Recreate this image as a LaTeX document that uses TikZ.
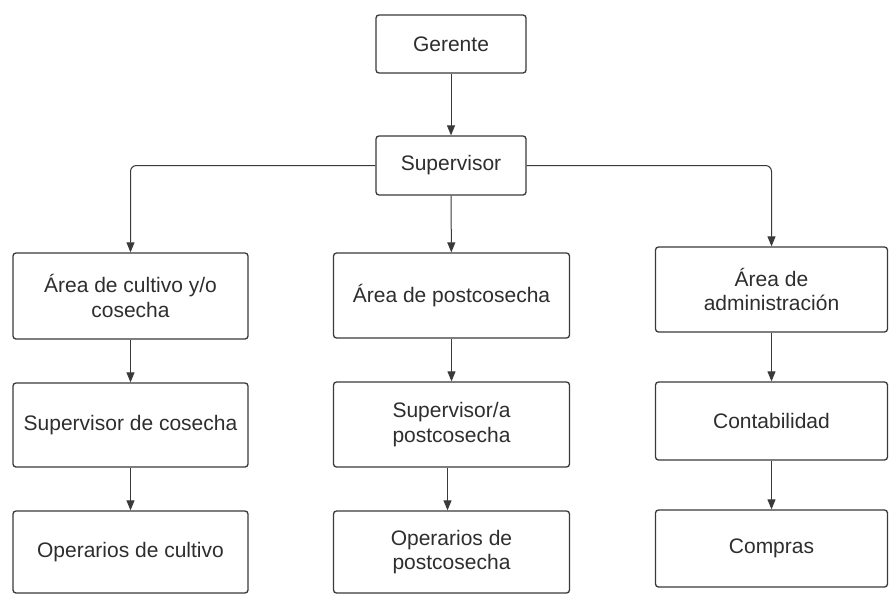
\documentclass[tikz,border=0pt]{standalone}
\usepackage{fontspec}
\setmainfont{Liberation Sans}
\usetikzlibrary{arrows.meta}
\definecolor{txt}{HTML}{2E2E2E}
\definecolor{edge}{HTML}{3A3A3A}
\tikzset{
  box/.style={draw=edge, line width=1.3pt, rounded corners=3pt, fill=white,
    inner sep=0pt, align=center, text=txt,
    font=\fontsize{21}{24.5}\selectfont},
  conn/.style={draw=edge, line width=1pt, rounded corners=6pt,
    -{Triangle[length=10pt,width=8pt]}}
}
\begin{document}
\begin{tikzpicture}[x=1pt,y=-1pt]
\useasboundingbox[fill=white] (0,0) rectangle (889,595);
\node[box, minimum width=150pt, minimum height=58pt] (ger) at (451,44) {Gerente};
\node[box, minimum width=150pt, minimum height=59pt] (sup) at (451,165.5) {Supervisor};
\node[box, minimum width=235pt, minimum height=86pt] (l1) at (130.5,296) {Área de cultivo y/o\\cosecha};
\node[box, minimum width=235pt, minimum height=84pt] (l2) at (130.5,425) {Supervisor de cosecha};
\node[box, minimum width=235pt, minimum height=82pt] (l3) at (130.5,552) {Operarios de cultivo};
\node[box, minimum width=236pt, minimum height=85pt] (m1) at (451.5,295.5) {Área de postcosecha};
\node[box, minimum width=236pt, minimum height=85pt] (m2) at (451.5,424.5) {Supervisor/a\\postcosecha};
\node[box, minimum width=236pt, minimum height=82pt] (m3) at (451.5,552) {Operarios de\\postcosecha};
\node[box, minimum width=232pt, minimum height=85pt] (r1) at (771.5,289.5) {Área de\\administración};
\node[box, minimum width=232pt, minimum height=78pt] (r2) at (771.5,421) {Contabilidad};
\node[box, minimum width=232pt, minimum height=77pt] (r3) at (771.5,548.5) {Compras};
\draw[conn] (ger) -- (sup);
\draw[conn] (sup.west) -| (l1.north);
\draw[conn] (sup.east) -| (r1.north);
\draw[conn] (sup) -- (m1);
\draw[conn] (l1) -- (l2);
\draw[conn] (l2) -- (l3);
\draw[conn] (m1) -- (m2);
\draw[conn] ([xshift=-4pt]m2.south) -- ([xshift=-4pt]m3.north);
\draw[conn] (r1) -- (r2);
\draw[conn] (r2) -- (r3);
\end{tikzpicture}
\end{document}
